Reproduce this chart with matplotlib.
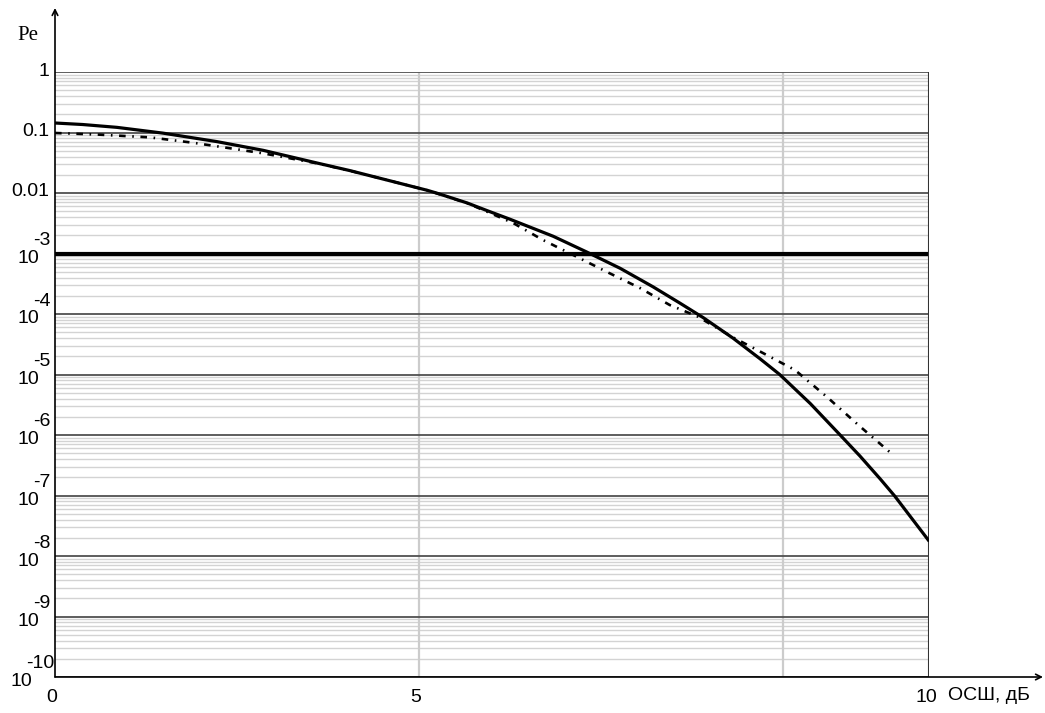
import matplotlib
matplotlib.use("Agg")
import matplotlib.pyplot as plt
import numpy as np

# solid curve (dB, log10 Pe)
snr_a = [0.0, 0.38, 0.85, 1.48, 2.22, 2.86, 3.60, 4.05, 4.50, 5.11, 5.25, 5.66, 5.93, 6.25,
         6.84, 7.30, 7.76, 8.21, 8.58, 8.90, 9.31, 9.68, 9.95, 10.37, 10.78, 11.05, 11.33,
         11.53, 11.99]
lg_a = [-0.843, -0.868, -0.915, -1.010, -1.150, -1.295, -1.505, -1.630, -1.768, -1.955,
        -2.005, -2.165, -2.290, -2.435, -2.715, -2.975, -3.245, -3.550, -3.820, -4.060,
        -4.400, -4.740, -5.000, -5.480, -6.000, -6.345, -6.726, -7.010, -7.736]

# dash-dot curve
snr_b = [0.0, 0.60, 1.30, 1.90, 2.40, 2.86, 3.60, 4.05, 4.50, 5.11, 5.66, 6.29, 6.70, 7.17,
         7.58, 8.03, 8.44, 8.82, 9.30, 9.72, 10.16, 10.60, 11.03, 11.46]
lg_b = [-1.008, -1.035, -1.080, -1.170, -1.260, -1.345, -1.510, -1.632, -1.768, -1.955,
        -2.168, -2.496, -2.777, -3.058, -3.306, -3.570, -3.851, -4.040, -4.380, -4.645,
        -4.926, -5.372, -5.835, -6.281]

exps = list(range(0, -11, -1))
x_ticks = [0, 5, 12]
x_tick_labels = ["0", "5", "10"]

W, H = 1045, 713
fig = plt.figure(figsize=(W / 100, H / 100), dpi=100)
L, R, T, B = 55, 929, 72, 677
ax = fig.add_axes([L / W, 1 - B / H, (R - L) / W, (B - T) / H])
ax.set_yscale("log")
ax.set_xlim(0, 12)
ax.set_ylim(1e-10, 1)

# grid
for e in exps:
  for k in range(2, 10):
    ax.axhline(k * 10.0 ** (e - 1), color="#d3d3d3", lw=1.0, zorder=1)
for e in exps:
  if e == -3:
    ax.axhline(10.0 ** e, color="black", lw=3.0, zorder=2)
  else:
    ax.axhline(10.0 ** e, color="#505050", lw=1.3, zorder=2)
for xv in (5, 10):
  ax.axvline(xv, color="#cccccc", lw=1.6, zorder=1)
ax.axvline(12, color="#333333", lw=1.5, zorder=3)

ax.plot(snr_a, 10.0 ** np.array(lg_a), color="black", lw=2.3, zorder=5,
        solid_joinstyle="round")
ax.plot(snr_b, 10.0 ** np.array(lg_b), color="black", lw=1.9,
        linestyle=(0, (2.5, 2.5, 0.6, 2.5)), zorder=4)

for s in ("top", "right", "left", "bottom"):
  ax.spines[s].set_visible(False)
ax.set_xticks([])
ax.set_yticks([])
ax.minorticks_off()

font = "Liberation Sans"
# axes with arrows
ax.annotate("", xy=(L, H - 8), xytext=(L, H - B), xycoords="figure pixels",
            textcoords="figure pixels",
            arrowprops=dict(arrowstyle="->", color="black", lw=1.2, shrinkA=0, shrinkB=0))
ax.annotate("", xy=(1043, H - B), xytext=(L, H - B), xycoords="figure pixels",
            textcoords="figure pixels",
            arrowprops=dict(arrowstyle="->", color="black", lw=1.2, shrinkA=0, shrinkB=0))


def ypix(e):
  return T + (B - T) * (-e) / 10.0


plain = {0: "1", -1: "0.1", -2: "0.01"}
for e in exps:
  py = ypix(e)
  if e in plain:
    fig.text(49 / W, 1 - (py - 1) / H, plain[e], ha="right", va="center",
             fontsize=14, family=font)
  else:
    xr = 39 if e > -10 else 32
    fig.text(xr / W, 1 - (py + 5) / H, "10", ha="right", va="center",
             fontsize=14, family=font)
    fig.text((xr - 6) / W, 1 - (py - 13) / H, str(e), ha="left", va="center",
             fontsize=14, family=font)

fig.text(28 / W, 1 - 35 / H, "Pe", ha="center", va="center", fontsize=15,
         family="Liberation Serif")

for xv, lab in zip(x_ticks, x_tick_labels):
  px = L + (R - L) * xv / 12.0
  fig.text((px - 3) / W, 1 - 697 / H, lab, ha="center", va="center",
           fontsize=14, family=font)
fig.text(948 / W, 1 - 695 / H, "ОСШ, дБ", ha="left", va="center",
         fontsize=14, family=font)

fig.savefig("out.png", dpi=100, facecolor="white")
